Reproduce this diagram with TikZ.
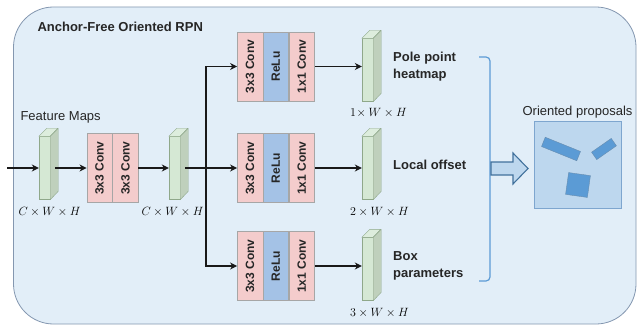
\documentclass[tikz,border=0pt]{standalone}
\usepackage{fontspec}
\setmainfont{Liberation Sans}
\usetikzlibrary{arrows.meta,positioning}
\definecolor{panelfill}{HTML}{E2EEF8}
\definecolor{paneldraw}{HTML}{8497B0}
\definecolor{convpink}{HTML}{F4CCCC}
\definecolor{relublue}{HTML}{A4C2E6}
\definecolor{mapfront}{HTML}{D5E8D4}
\definecolor{mapside}{HTML}{BFD0BC}
\definecolor{mapdraw}{HTML}{8FA88A}
\definecolor{brkblue}{HTML}{5B9BD5}
\definecolor{propfill}{HTML}{BDD7EE}
\definecolor{propdraw}{HTML}{7EA6CF}
\definecolor{boxblue}{HTML}{5B9BD5}
\definecolor{boxdraw}{HTML}{41719C}

% feature map drawn as a thin prism: front face node plus top and side faces
\newcommand{\fmap}[2]{%
  \node[fmap] (#1) at (#2) {};
  \filldraw[fmaptop] (#1.north west) -- ++(8,-8) -- ++(11,0) -- (#1.north east) -- cycle;
  \filldraw[fmapside] (#1.north east) -- ++(8,-8) -- ++(0,63) -- (#1.south east) -- cycle;
}

\begin{document}
\begin{tikzpicture}[x=1pt, y=-1pt,
  panel/.style={draw=paneldraw, fill=panelfill, line width=0.8pt, rounded corners=40pt},
  cbox/.style={draw=gray!70, fill=#1, minimum width=25.5pt, minimum height=69pt, inner sep=0pt,
    font=\fontsize{12}{14}\selectfont\bfseries, text=black!85},
  fmap/.style={draw=mapdraw, fill=mapfront, minimum width=11pt, minimum height=63pt, inner sep=0pt},
  fmaptop/.style={draw=mapdraw, fill=mapfront!80!white, line join=round},
  fmapside/.style={draw=mapdraw, fill=mapside, line join=round},
  arr/.style={-{Stealth[length=7pt, width=7pt]}, line width=1.3pt, black!90},
  line/.style={line width=1.3pt, black!90},
  dim/.style={font=\fontsize{12}{14}\selectfont, inner sep=2pt},
  outtxt/.style={align=left, font=\fontsize{13}{17}\selectfont\bfseries, text=black!85, inner sep=3pt},
  brk/.style={draw=brkblue, line width=1.2pt, rounded corners=4pt},
  bigarr/.style={draw=boxdraw, fill=propfill, line width=1.1pt, line join=miter},
  propbox/.style={draw=propdraw, fill=propfill, minimum size=87pt, inner sep=0pt},
  pbox/.style={draw=boxdraw!80, fill=boxblue, inner sep=0pt}
]
  \useasboundingbox (0,0) rectangle (637,326);
  \draw[panel] (13.5,7) rectangle (636,324);

  \node[anchor=west, font=\fontsize{13}{16}\selectfont\bfseries, text=black!85] (title) at (34,27) {Anchor-Free Oriented RPN};
  \node[anchor=west, font=\fontsize{13}{16}\selectfont, text=black!85] (fmtxt) at (17,117) {Feature Maps};

  % backbone features and shared convs
  \fmap{fm1}{44.5,168}
  \fmap{fm2}{174.5,168}
  \node[cbox=convpink] (c0a) at (99.5,168) {\rotatebox{90}{3x3 Conv}};
  \node[cbox=convpink, right=0pt of c0a] (c0b) {\rotatebox{90}{3x3 Conv}};

  \node[dim, below=5pt of fm1, xshift=5pt] (d1) {$C\times W\times H$};
  \node[dim, below=5pt of fm2, xshift=-2pt] (d2) {$C\times W\times H$};

  % three heads
  \node[cbox=convpink] (c1a) at (250,66.5) {\rotatebox{90}{3x3 Conv}};
  \node[cbox=relublue, right=0pt of c1a] (r1) {\rotatebox{90}{ReLu}};
  \node[cbox=convpink, right=0pt of r1] (c1b) {\rotatebox{90}{1x1 Conv}};

  \node[cbox=convpink] (c2a) at (250,168) {\rotatebox{90}{3x3 Conv}};
  \node[cbox=relublue, right=0pt of c2a] (r2) {\rotatebox{90}{ReLu}};
  \node[cbox=convpink, right=0pt of r2] (c2b) {\rotatebox{90}{1x1 Conv}};

  \node[cbox=convpink] (c3a) at (250,266) {\rotatebox{90}{3x3 Conv}};
  \node[cbox=relublue, right=0pt of c3a] (r3) {\rotatebox{90}{ReLu}};
  \node[cbox=convpink, right=0pt of r3] (c3b) {\rotatebox{90}{1x1 Conv}};

  \fmap{fm3}{367.5,70}
  \fmap{fm4}{367.5,168}
  \fmap{fm5}{367.5,269}

  \node[dim, below=4pt of fm3, xshift=11pt] (d3) {$1\!\times W\times H$};
  \node[dim, below=5pt of fm4, xshift=12pt] (d4) {$2\times W\times H$};
  \node[dim, below=5pt of fm5, xshift=12pt] (d5) {$3\times W\times H$};

  \node[outtxt, anchor=west] (t1) at (390,66.5) {Pole point\\heatmap};
  \node[outtxt, anchor=west] (t2) at (390,165) {Local offset};
  \node[outtxt, anchor=west] (t3) at (390,265.5) {Box\\parameters};

  % connectors
  \coordinate (in) at (7,168);
  \coordinate (split) at (206,168);
  \draw[arr] (in) -- (fm1);
  \draw[arr] ([xshift=5pt]fm1.east) -- (c0a);
  \draw[arr] (c0b) -- (fm2);
  \draw[line] ([xshift=5pt]fm2.east) -- (split);
  \draw[arr] (split) -- (c2a);
  \draw[arr] (split) |- (c1a);
  \draw[arr] (split) |- (c3a);
  \draw[arr] (c1b) -- (c1b -| fm3.west);
  \draw[arr] (c2b) -- (fm4);
  \draw[arr] (c3b) -- (c3b -| fm5.west);

  % outputs gathered into proposals
  \draw[brk] (479,57) -- (490,57) -- (490,281) -- (479,281);
  \coordinate (brk) at (491,168.5);
  \draw[bigarr] (brk) ++(0,-6.5) -- ++(22,0) -- ++(0,-9) -- ++(15,15.5) -- ++(-15,15.5) -- ++(0,-9) -- ++(-22,0) -- cycle;

  \node[propbox] (prop) at (577.5,165) {};
  \node[above=0pt of prop, font=\fontsize{13}{16}\selectfont, text=black!85] (proptxt) {Oriented proposals};
  \node[pbox, minimum width=38pt, minimum height=10pt, rotate=-22] (p1) at (561,149) {};
  \node[pbox, minimum width=24pt, minimum height=9pt, rotate=35] (p2) at (604,149) {};
  \node[pbox, minimum size=22pt, rotate=-8] (p3) at (578,185) {};
\end{tikzpicture}
\end{document}
